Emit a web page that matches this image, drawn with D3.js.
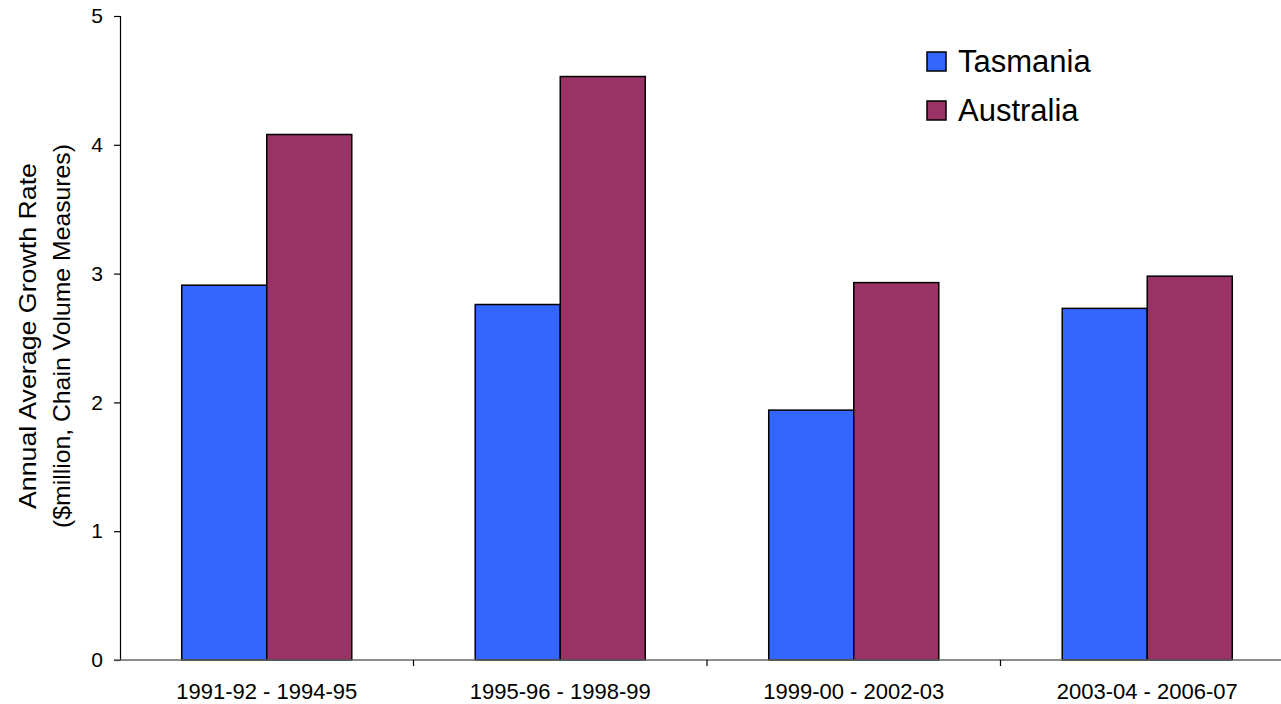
<!DOCTYPE html>
<html>
<head>
<meta charset="utf-8">
<script src="https://cdn.jsdelivr.net/npm/d3@7"></script>
<style>
  html, body { margin: 0; padding: 0; background: #fff; }
  svg { display: block; font-family: "Liberation Sans", Arial, sans-serif; }
</style>
</head>
<body>
<svg id="chart" width="1281" height="704"></svg>
<script>
const categories = ["1991-92 - 1994-95", "1995-96 - 1998-99", "1999-00 - 2002-03", "2003-04 - 2006-07"];
const seriesNames = ["Tasmania", "Australia"];
const tasmania = [2.91, 2.76, 1.94, 2.73];
const australia = [4.08, 4.53, 2.93, 2.98];
const yTicks = [0, 1, 2, 3, 4, 5];
const colors = ["#3366FF", "#993366"];

(function () {
const svg = d3.select("#chart");
const mLeft = 120, mTop = 16, mBottom = 660;
const step = 293.5;
const mRight = mLeft + step * categories.length;

const x0 = d3.scaleBand().domain(categories).range([mLeft, mRight]).paddingInner(0).paddingOuter(0);
const x1 = d3.scaleBand().domain(seriesNames).range([0, x0.bandwidth()]).paddingInner(0).paddingOuter(0.726);
const y = d3.scaleLinear().domain([0, 5]).range([mBottom, mTop]);

const values = { "Tasmania": tasmania, "Australia": australia };

// bars
categories.forEach((c, i) => {
  seriesNames.forEach((s, j) => {
    svg.append("rect")
      .attr("x", x0(c) + x1(s))
      .attr("y", y(values[s][i]))
      .attr("width", x1.bandwidth())
      .attr("height", y(0) - y(values[s][i]))
      .attr("fill", colors[j])
      .attr("stroke", "#000")
      .attr("stroke-width", 1.5);
  });
});

// y axis
const yAxis = svg.append("g").attr("transform", `translate(${mLeft},0)`)
  .call(d3.axisLeft(y).tickValues(yTicks).tickFormat(d3.format("d")).tickSize(6).tickPadding(11));
yAxis.select(".domain").attr("stroke", "#000").attr("stroke-width", 1.2);
yAxis.selectAll(".tick line").attr("stroke", "#000").attr("stroke-width", 1.2);
yAxis.selectAll(".tick text").attr("font-size", 21).attr("fill", "#000")
  .attr("font-family", "Liberation Sans, Arial, sans-serif");

// x axis
const xAxis = svg.append("g").attr("transform", `translate(0,${mBottom})`)
  .call(d3.axisBottom(x0).tickSize(0));
xAxis.select(".domain").remove();
svg.append("line").attr("x1", mLeft - 6).attr("x2", mRight).attr("y1", mBottom).attr("y2", mBottom)
  .attr("stroke", "#666").attr("stroke-width", 1.3);
d3.range(1, categories.length).forEach(k => {
  const xx = x0(categories[k]);
  svg.append("line").attr("x1", xx).attr("x2", xx).attr("y1", mBottom).attr("y2", mBottom + 6)
    .attr("stroke", "#000").attr("stroke-width", 1.2);
});
xAxis.selectAll(".tick text").attr("font-size", 22).attr("fill", "#000")
  .attr("y", 39).attr("dy", 0)
  .attr("font-family", "Liberation Sans, Arial, sans-serif");

// y title
const yt = svg.append("text")
  .attr("transform", "translate(0,336) rotate(-90)")
  .attr("text-anchor", "middle")
  .attr("font-size", 24.5)
  .attr("fill", "#000");
yt.append("tspan").attr("x", 0).attr("y", 36)
  .attr("textLength", 346).attr("lengthAdjust", "spacingAndGlyphs")
  .text("Annual Average Growth Rate");
yt.append("tspan").attr("x", 0).attr("y", 70)
  .attr("textLength", 384).attr("lengthAdjust", "spacingAndGlyphs")
  .text("($million, Chain Volume Measures)");

// legend
const legend = svg.append("g");
seriesNames.forEach((s, j) => {
  const g = legend.append("g").attr("transform", `translate(927,${52 + j * 49})`);
  g.append("rect").attr("width", 19).attr("height", 19).attr("fill", colors[j])
    .attr("stroke", "#000").attr("stroke-width", 1.5);
  g.append("text").attr("x", 31).attr("y", 20).attr("font-size", 31).attr("fill", "#000").text(s);
});
})();
</script>
</body>
</html>
